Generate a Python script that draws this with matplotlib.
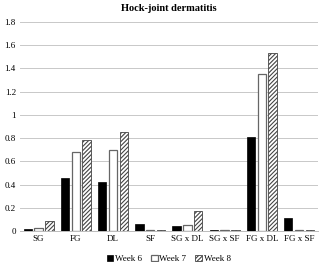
import numpy as np
import matplotlib.pyplot as plt

plt.rcParams['font.family'] = ['Liberation Serif', 'DejaVu Serif']
plt.rcParams['hatch.linewidth'] = 0.8

categories = ['SG', 'FG', 'DL', 'SF', 'SG x DL', 'SG x SF', 'FG x DL', 'FG x SF']
week6 = [0.02, 0.46, 0.42, 0.06, 0.04, 0.01, 0.81, 0.11]
week7 = [0.03, 0.68, 0.70, 0.01, 0.05, 0.01, 1.35, 0.01]
week8 = [0.09, 0.78, 0.85, 0.01, 0.17, 0.01, 1.53, 0.01]

fig = plt.figure(figsize=(3.2, 2.62), dpi=100)
ax = fig.add_axes([0.0625, 0.118, 0.93, 0.798])

x = np.arange(len(categories))
step = 0.29
bw = 0.23
ax.bar(x - step, week6, bw, color='black', edgecolor='black', linewidth=0.5, label='Week 6', zorder=3)
ax.bar(x, week7, bw, color='white', edgecolor='#666666', linewidth=0.9, label='Week 7', zorder=3)
ax.bar(x + step, week8, bw, color='white', edgecolor='#444444', hatch='////////', linewidth=0.6, label='Week 8', zorder=3)

ax.set_xlim(-0.5, len(categories) - 0.5)
ax.set_ylim(0, 1.8)
ax.set_yticks(np.arange(0, 1.81, 0.2))
ax.set_yticklabels(['0', '0.2', '0.4', '0.6', '0.8', '1', '1.2', '1.4', '1.6', '1.8'])
ax.set_xticks(x)
ax.set_xticklabels(categories)
ax.tick_params(axis='both', labelsize=6.5, length=0, pad=3)
ax.grid(axis='y', color='#c8c8c8', linewidth=0.7, zorder=0)
for s in ['top', 'right', 'left']:
    ax.spines[s].set_visible(False)
ax.spines['bottom'].set_color('#bbbbbb')
ax.spines['bottom'].set_linewidth(0.7)

ax.set_title('Hock-joint dermatitis', fontsize=7.5, fontweight='bold', pad=8)
ax.legend(loc='upper center', bbox_to_anchor=(0.5, -0.075), ncol=3, frameon=False,
          fontsize=6.5, handlelength=0.7, handleheight=0.7, handletextpad=0.2, columnspacing=1.0)

fig.savefig('out.png', dpi=100)
